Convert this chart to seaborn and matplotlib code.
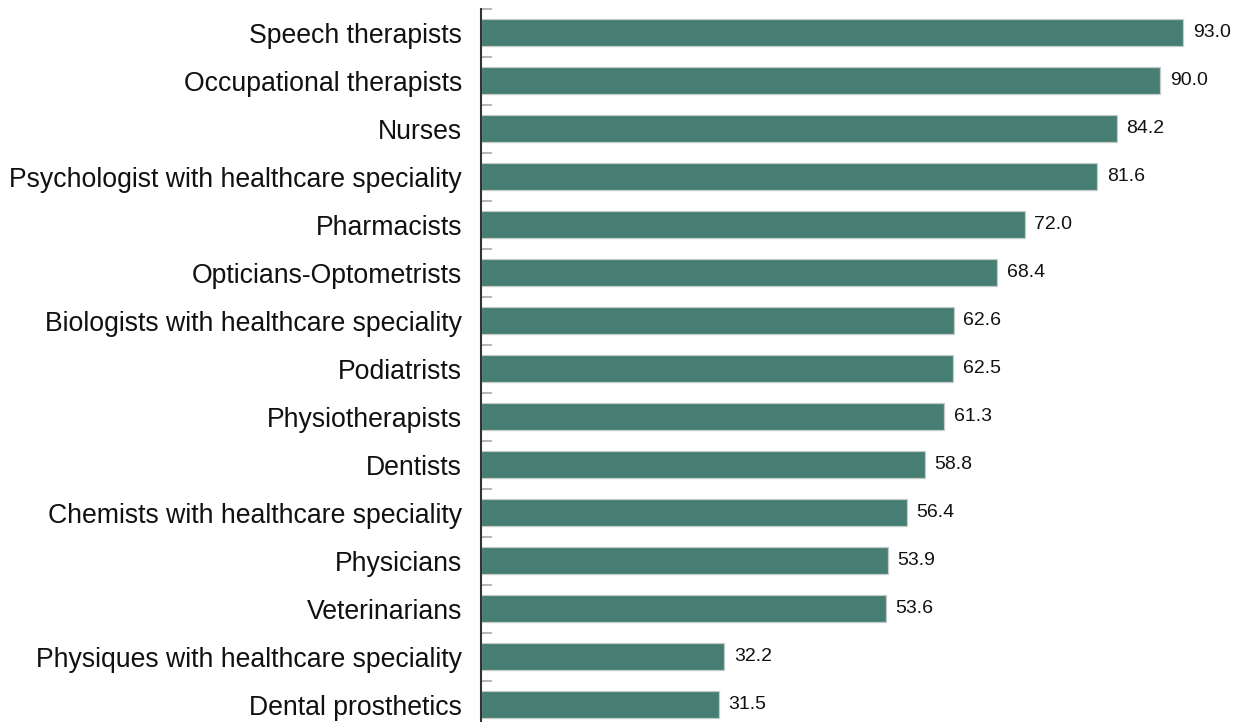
import numpy as np
import pandas as pd
import seaborn as sns
import matplotlib.pyplot as plt

professions = ['Speech therapists', 'Occupational therapists', 'Nurses',
               'Psychologist with healthcare speciality', 'Pharmacists',
               'Opticians-Optometrists', 'Biologists with healthcare speciality',
               'Podiatrists', 'Physiotherapists', 'Dentists',
               'Chemists with healthcare speciality', 'Physicians',
               'Veterinarians', 'Physiques with healthcare speciality',
               'Dental prosthetics']
values = [93.0, 90.0, 84.2, 81.6, 72.0, 68.4, 62.6, 62.5, 61.3, 58.8,
          56.4, 53.9, 53.6, 32.2, 31.5]

df = pd.DataFrame({'profession': professions, 'value': values})

sns.set_style('white')
plt.rcParams['font.family'] = ['Liberation Sans', 'DejaVu Sans']

fig = plt.figure(figsize=(12.39, 7.22), dpi=100)
ax = fig.add_axes([0.388, -0.009, 0.612, 0.997])
sns.barplot(data=df, x='value', y='profession', color='#477E73', width=0.57,
            edgecolor='#c4ccca', linewidth=0.9, saturation=1, ax=ax)

for i, v in enumerate(values):
    ax.text(v + 1.3, i, f'{v:.1f}', va='center', ha='left', fontsize=14,
            color='#111111')

ax.set_xlim(0, 100.4)
ax.set_ylim(len(values) - 0.5, -0.5)
ax.set_xlabel('')
ax.set_ylabel('')
ax.set_xticks([])
ax.tick_params(axis='y', which='major', length=0, labelsize=19.2, pad=13.5,
               colors='#111111')
ax.set_yticks(np.arange(len(values)) - 0.5, minor=True)
ax.tick_params(axis='y', which='minor', left=True, length=8, width=1.3,
               direction='in', color='#b0b0b0')
for s in ['top', 'right', 'bottom']:
    ax.spines[s].set_visible(False)
ax.spines['left'].set_color('#333333')
ax.spines['left'].set_linewidth(1.5)

fig.savefig('out.png', dpi=100)
